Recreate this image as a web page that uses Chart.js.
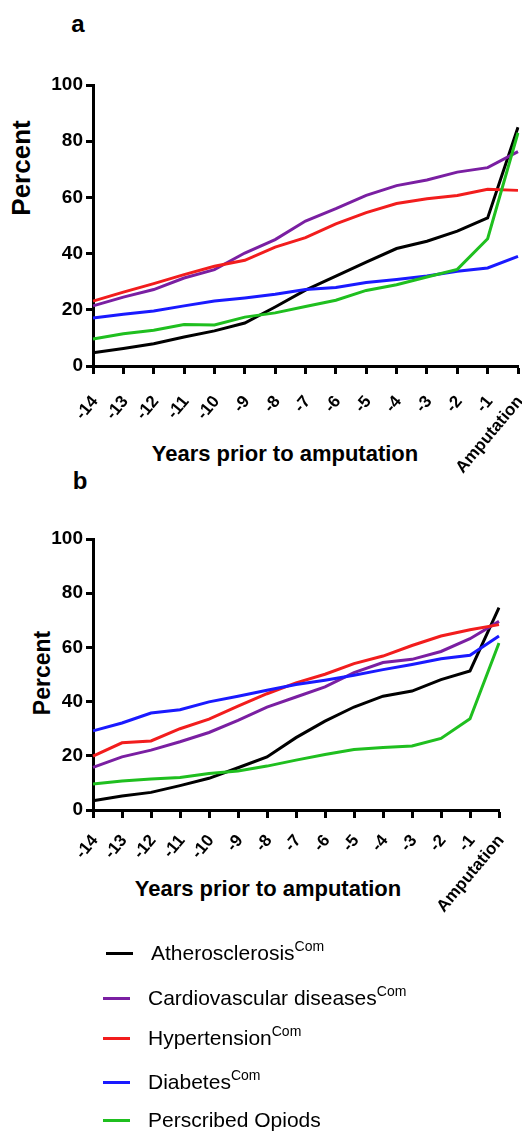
<!DOCTYPE html>
<html>
<head>
<meta charset="utf-8">
<script src="https://cdn.jsdelivr.net/npm/chart.js@4/dist/chart.umd.min.js"></script>
<style>
  body { margin: 0; background: #fff; font-family: "Liberation Sans", Arial, sans-serif; }
  #page { position: relative; width: 522px; height: 1136px; overflow: hidden; }
  canvas { position: absolute; left: 0; }
  .txt { position: absolute; white-space: nowrap; color: #000; }
  .bold { font-weight: bold; }
  .rot { transform: translate(-50%, -50%) rotate(-90deg); }
  .ctr { transform: translate(-50%, -50%); }
  .leg { position: absolute; font-size: 21px; line-height: 1; white-space: nowrap; }
  .leg .ln { position: absolute; height: 2.5px; }
  .leg sup { font-size: 14px; vertical-align: 9px; line-height: 0; }
</style>
</head>
<body>
<div id="page">
  <div class="txt bold ctr" style="left:78px;top:24px;font-size:24px;">a</div>
  <div class="txt bold ctr" style="left:80px;top:481px;font-size:24px;">b</div>
  <div class="txt bold rot" style="left:21px;top:168px;font-size:26px;">Percent</div>
  <div class="txt bold rot" style="left:42px;top:673px;font-size:23px;">Percent</div>
  <div class="txt bold ctr" style="left:285px;top:454px;font-size:22px;">Years prior to amputation</div>
  <div class="txt bold ctr" style="left:268px;top:889px;font-size:22px;">Years prior to amputation</div>
  <canvas id="chartA" width="522" height="490" style="top:0px"></canvas>
  <canvas id="chartB" width="522" height="470" style="top:470px"></canvas>
  <div id="legend"></div>
</div>
<script>
// categories
const years = ['-14', '-13', '-12', '-11', '-10', '-9', '-8', '-7', '-6', '-5', '-4', '-3', '-2', '-1', 'Amputation'];
const yTicks = [0, 20, 40, 60, 80, 100];

// series names
const seriesNames = ['Atherosclerosis', 'Cardiovascular diseases', 'Hypertension', 'Diabetes', 'Perscribed Opiods'];
const seriesSup = ['Com', 'Com', 'Com', 'Com', ''];
const seriesColors = ['#000000', '#7a1fa2', '#f21d1d', '#1a1aff', '#1fbf1f'];

// panel a
const athA = [4.7, 6.2, 7.9, 10.3, 12.5, 15.3, 21, 27, 32, 37, 41.8, 44.4, 48, 52.7, 85];
const cvdA = [21.4, 24.5, 27.2, 31.3, 34.3, 40.2, 45, 51.6, 56, 60.7, 64.2, 66.2, 69, 70.6, 76.3];
const hypA = [23.1, 26.3, 29.3, 32.5, 35.5, 37.6, 42.3, 45.7, 50.6, 54.6, 57.8, 59.5, 60.7, 62.9, 62.5];
const diaA = [17.1, 18.4, 19.6, 21.4, 23.1, 24.2, 25.5, 27.2, 27.9, 29.7, 30.8, 32, 33.7, 34.9, 39];
const opiA = [9.6, 11.5, 12.7, 14.8, 14.6, 17.4, 18.9, 21.2, 23.4, 26.9, 28.9, 31.7, 34.4, 45.3, 83];

// panel b
const athB = [3.4, 5.2, 6.5, 9, 11.7, 15.6, 19.6, 26.7, 32.8, 38, 42, 43.9, 48.1, 51.3, 74.7];
const cvdB = [15.7, 19.6, 22.1, 25.2, 28.6, 33.1, 38, 41.7, 45.4, 50.7, 54.4, 55.6, 58.5, 63.2, 69.6];
const hypB = [19.9, 24.8, 25.5, 30, 33.5, 38.3, 42.9, 46.9, 50.1, 54, 56.8, 60.7, 64.2, 66.5, 68.4];
const diaB = [29.2, 32.1, 35.8, 37, 39.9, 42, 44.2, 46.3, 47.9, 49.7, 51.8, 53.7, 55.8, 57.1, 64.2];
const opiB = [9.6, 10.7, 11.4, 12, 13.5, 14.4, 16.2, 18.4, 20.5, 22.3, 23.1, 23.6, 26.4, 33.7, 61.6];

const fontFam = '"Liberation Sans", Arial, sans-serif';

function makeChart(id, series, pad, yWidth, xHeight, tickPad) {
  const ctx = document.getElementById(id).getContext('2d');
  return new Chart(ctx, {
    type: 'line',
    data: {
      labels: years,
      datasets: series.map((d, i) => ({
        label: seriesNames[i],
        data: d,
        borderColor: seriesColors[i],
        borderWidth: 3,
        pointRadius: 0,
        tension: 0,
        fill: false
      })).reverse()
    },
    options: {
      responsive: false,
      animation: false,
      layout: { padding: pad },
      plugins: { legend: { display: false }, tooltip: { enabled: false } },
      scales: {
        x: {
          offset: false,
          grid: { drawOnChartArea: false, drawTicks: true, tickLength: 8, tickWidth: 3, tickColor: '#000' },
          border: { display: true, color: '#000', width: 3 },
          ticks: {
            autoSkip: false, maxRotation: 50, minRotation: 50, padding: tickPad, labelOffset: 2,
            color: '#000', font: { family: fontFam, size: 17, weight: 'bold' }
          },
          afterFit: function(s) { s.height = xHeight; s.paddingLeft = 0; s.paddingRight = 0; }
        },
        y: {
          min: 0, max: 100,
          afterBuildTicks: function(s) { s.ticks = yTicks.map(v => ({ value: v })); },
          grid: { drawOnChartArea: false, drawTicks: true, tickLength: 7, tickWidth: 3, tickColor: '#000' },
          border: { display: true, color: '#000', width: 3 },
          ticks: { padding: 3, color: '#000', font: { family: fontFam, size: 19, weight: 'bold' } },
          afterFit: function(s) { s.width = yWidth; }
        }
      }
    }
  });
}

makeChart('chartA', [athA, cvdA, hypA, diaA, opiA], { top: 85, right: 4, left: 0, bottom: 0 }, 93, 124, 18);
makeChart('chartB', [athB, cvdB, hypB, diaB, opiB], { top: 69, right: 23, left: 0, bottom: 0 }, 93, 130, 13);

// legend
const legendRows = [953, 998, 1038, 1082, 1120];
const legend = document.getElementById('legend');
seriesNames.forEach((name, i) => {
  const row = document.createElement('div');
  row.className = 'leg';
  row.style.left = (i === 0 ? 151 : 148) + 'px';
  row.style.top = (legendRows[i] - 11) + 'px';
  row.innerHTML = name + (seriesSup[i] ? '<sup>' + seriesSup[i] + '</sup>' : '');
  const ln = document.createElement('div');
  ln.className = 'ln';
  ln.style.background = seriesColors[i];
  ln.style.left = '-45px';
  ln.style.width = '27px';
  ln.style.top = '10px';
  row.appendChild(ln);
  legend.appendChild(row);
});
</script>
</body>
</html>
